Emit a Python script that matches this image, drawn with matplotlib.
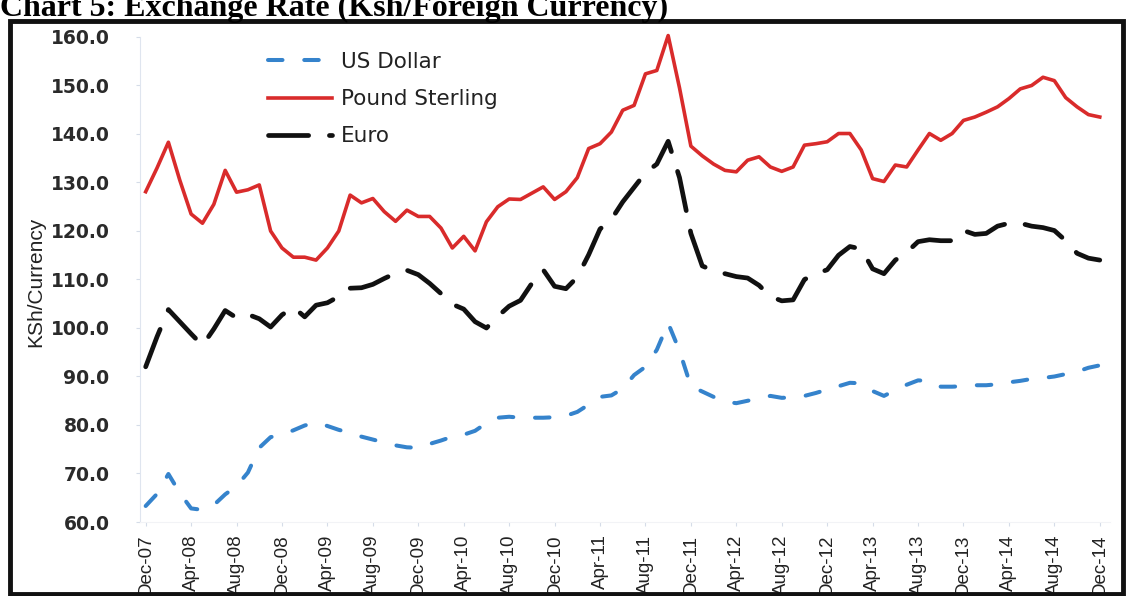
import matplotlib
matplotlib.use("Agg")
import matplotlib.pyplot as plt
import pandas as pd
from matplotlib.patches import Rectangle

# monthly series, Dec-07 .. Dec-14 (KSh per unit of foreign currency)
months = pd.date_range("2007-12-01", periods=85, freq="MS").strftime("%b-%y").tolist()

usd = [63.3, 65.8, 69.9, 66.0, 62.8, 62.5, 63.5, 65.7, 67.4, 70.2,
       75.3, 77.5, 78.0, 78.9, 79.9, 80.5, 79.8, 79.0, 78.4, 77.6,
       77.0, 76.4, 75.8, 75.4, 75.3, 76.1, 76.8, 77.6, 78.0, 78.8,
       80.4, 81.5, 81.7, 81.5, 81.5, 81.5, 81.6, 81.9, 82.7, 84.2,
       85.8, 86.1, 87.5, 90.3, 92.0, 95.5, 101.0, 95.3, 88.0, 86.9,
       85.8, 84.8, 84.5, 85.0, 85.5, 86.0, 85.6, 85.7, 86.0, 86.6,
       87.3, 88.0, 88.7, 88.6, 87.0, 86.0, 87.2, 88.3, 89.2, 89.1,
       87.9, 87.9, 88.0, 88.2, 88.2, 88.4, 88.8, 89.1, 89.5, 89.7,
       90.0, 90.5, 91.0, 91.8, 92.3]

gbp = [128.1, 133.0, 138.3, 130.5, 123.5, 121.6, 125.5, 132.5, 128.0, 128.5,
       129.5, 120.0, 116.5, 114.6, 114.6, 114.0, 116.5, 120.0, 127.4, 125.8,
       126.7, 124.0, 122.0, 124.3, 123.0, 123.0, 120.6, 116.5, 118.9, 115.9,
       121.9, 125.0, 126.6, 126.5, 127.8, 129.1, 126.5, 128.1, 131.0, 137.0,
       138.0, 140.4, 144.9, 145.9, 152.4, 153.1, 160.3, 149.5, 137.5, 135.5,
       133.8, 132.5, 132.2, 134.6, 135.3, 133.2, 132.3, 133.2, 137.7, 138.0,
       138.4, 140.1, 140.1, 136.7, 130.8, 130.2, 133.6, 133.2, 136.7, 140.1,
       138.7, 140.1, 142.8, 143.5, 144.5, 145.6, 147.3, 149.3, 150.0, 151.7,
       151.0, 147.5, 145.6, 144.0, 143.5]

eur = [92.0, 98.2, 103.8, 101.3, 98.8, 96.4, 99.8, 103.6, 102.1, 102.8,
       101.9, 100.2, 102.7, 104.3, 102.3, 104.7, 105.2, 106.5, 108.2, 108.3,
       109.0, 110.2, 111.3, 111.9, 111.0, 109.2, 107.1, 104.9, 103.9, 101.3,
       100.0, 102.4, 104.5, 105.7, 109.2, 112.0, 108.6, 108.1, 110.5, 115.1,
       120.4, 122.4, 126.0, 129.0, 132.0, 133.8, 138.5, 131.0, 119.5, 112.8,
       111.8, 111.2, 110.6, 110.3, 108.8, 106.5, 105.6, 105.8, 110.0, 111.2,
       112.0, 115.0, 116.8, 116.3, 112.2, 111.2, 114.0, 115.6, 117.8, 118.2,
       118.0, 118.0, 120.1, 119.3, 119.5, 121.0, 121.6, 121.6, 121.0, 120.7,
       120.1, 118.0, 115.4, 114.4, 114.0]

x = list(range(len(months)))

fig = plt.figure(figsize=(11.28, 5.96), dpi=100)
ax = fig.add_axes([140 / 1128, 1 - 522 / 596, 970 / 1128, 485 / 596])

ax.plot(x, usd, color="#3583cc", lw=2.9, dashes=(3.6, 5.4),
        dash_capstyle="round", label="US Dollar", clip_on=False)
ax.plot(x, gbp, color="#d92b2b", lw=2.6, solid_joinstyle="round",
        label="Pound Sterling", clip_on=False)
ax.plot(x, eur, color="#111111", lw=3.4, dashes=(8.5, 4.4),
        dash_capstyle="round", label="Euro", clip_on=False)

ax.set_xlim(-0.5, 84.9)
ax.set_ylim(60, 160)
ax.set_yticks(range(60, 161, 10))
ax.set_yticklabels([f"{v:.1f}" for v in range(60, 161, 10)],
                   fontsize=13.5, fontweight="bold", color="#2a2a2a")
ax.set_xticks(x[::4])
ax.set_xticklabels(months[::4], rotation=90, fontsize=13.5, color="#222222",
                   family="Liberation Sans")

for side in ["top", "right"]:
    ax.spines[side].set_visible(False)
ax.spines["left"].set_color("#dfe5ef")
ax.spines["bottom"].set_color("#f2f3f6")
ax.tick_params(axis="y", length=3, color="#d5dce8", pad=19)
ax.tick_params(axis="x", length=3, color="#d5dce8", pad=6)

fig.text(36 / 1128, 1 - 282 / 596, "KSh/Currency", rotation=90, ha="center",
         va="center", fontsize=15, color="#222222", family="Liberation Sans")

ax.legend(loc="upper left", bbox_to_anchor=(268 / 1128, 1 - 52 / 596),
          bbox_transform=fig.transFigure, frameon=False, fontsize=15.5,
          handlelength=2.95, handletextpad=0.45, labelspacing=0.8,
          borderaxespad=0, borderpad=0, labelcolor="#222222")

# title, partly cut off by the top edge as in the scan
fig.text(0.0, 1 - 16 / 596, "Chart 5: Exchange Rate (Ksh/Foreign Currency)",
         ha="left", va="baseline", fontsize=23, fontweight="bold",
         family="Liberation Serif")

# frame box around the chart
fig.add_artist(Rectangle((10 / 1128, 2 / 596), 1113 / 1128, 573 / 596,
                         transform=fig.transFigure, fill=False,
                         edgecolor="#111111", lw=3.5))

fig.savefig("out.png", dpi=100)
